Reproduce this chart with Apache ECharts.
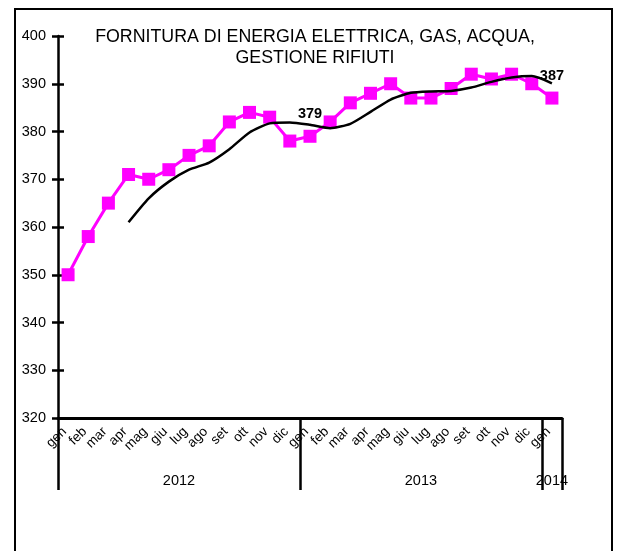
<!DOCTYPE html>
<html>
<head>
<meta charset="utf-8">
<script src="https://cdn.jsdelivr.net/npm/echarts@6/dist/echarts.min.js"></script>
<style>
html,body{margin:0;padding:0;background:#fff;}
#chart{width:617px;height:551px;}
</style>
</head>
<body>
<div id="chart"></div>
<script>
// ---- data ----
var months = ['gen','feb','mar','apr','mag','giu','lug','ago','set','ott','nov','dic',
              'gen','feb','mar','apr','mag','giu','lug','ago','set','ott','nov','dic','gen'];
var years = ['2012','2013','2014'];
var yearStart = [0, 12, 24];
var yearEnd = [11, 23, 24];
var indexValues = [350,358,365,371,370,372,375,377,382,384,383,378,
                   379,382,386,388,390,387,387,389,392,391,392,390,387];
var movingAvg = [null,null,null,361,366,369.5,372,373.5,376.3,379.8,381.7,381.9,
                 381.4,380.7,381.6,384.1,386.7,388.1,388.4,388.5,389.2,390.4,391.3,391.6,390.1];
var labelledIdx = [12, 24];
var yTicks = {min:320, max:400, interval:10};
var titleText = 'FORNITURA DI ENERGIA ELETTRICA, GAS, ACQUA,\nGESTIONE RIFIUTI';

var chart = echarts.init(document.getElementById('chart'), null, {renderer:'canvas'});
var FONT = 'Liberation Sans, Arial, sans-serif';

var option = {
  animation:false,
  backgroundColor:'#fff',
  title:{
    text:titleText,
    left:310, top:22, textAlign:'center',
    textStyle:{fontFamily:FONT, fontSize:17.8, fontWeight:'normal', color:'#000', lineHeight:21}
  },
  grid:{left:58, top:36, right:55, bottom:133, containLabel:false},
  xAxis:[{
    type:'category',
    data:months,
    boundaryGap:true,
    axisLine:{show:true, lineStyle:{color:'#000', width:3}},
    axisTick:{show:true, length:72, lineStyle:{color:'#000', width:2.5},
      interval:function(i){ return yearStart.indexOf(i) >= 0; }},
    axisLabel:{interval:0, rotate:45, margin:8, color:'#000', fontFamily:FONT, fontSize:13.5,
      padding:[0,5,0,0]},
    splitLine:{show:false}
  }],
  yAxis:[{
    type:'value', min:yTicks.min, max:yTicks.max, interval:yTicks.interval,
    axisLine:{show:true, lineStyle:{color:'#000', width:2.5}},
    axisTick:{show:true, length:6, lineStyle:{color:'#000', width:2.5}},
    axisLabel:{color:'#000', fontFamily:FONT, fontSize:14.5, margin:12},
    splitLine:{show:false}
  },{
    type:'value', min:yTicks.min, max:yTicks.max, interval:yTicks.interval, position:'left',
    axisLine:{show:false},
    axisTick:{show:true, inside:true, length:6, lineStyle:{color:'#000', width:2.5}},
    axisLabel:{show:false},
    splitLine:{show:false}
  }],
  series:[{
    type:'line',
    data:indexValues.map(function(v,i){
      if (labelledIdx.indexOf(i) >= 0) {
        return {value:v, label:{show:true, position:'top', distance:8, formatter:'{c}',
          color:'#000', fontFamily:FONT, fontSize:14.5, fontWeight:'bold'}};
      }
      return v;
    }),
    symbol:'rect', symbolSize:13,
    itemStyle:{color:'#ff00ff'},
    lineStyle:{color:'#ff00ff', width:3},
    z:3
  },{
    type:'line',
    data:movingAvg,
    symbol:'none',
    smooth:0.2,
    lineStyle:{color:'#000', width:2.5},
    z:4
  }]
};
chart.setOption(option);

// year labels centred under each year group
var g = [];
for (var k = 0; k < years.length; k++) {
  var x0 = chart.convertToPixel({xAxisIndex:0}, yearStart[k]);
  var x1 = chart.convertToPixel({xAxisIndex:0}, yearEnd[k]);
  g.push({type:'text', x:(x0+x1)/2, y:481,
    style:{text:years[k], fill:'#000', font:'14.5px ' + FONT, align:'center', verticalAlign:'middle'}});
}
g.push({type:'rect', shape:{x:15, y:9, width:597, height:560},
  style:{fill:null, stroke:'#000', lineWidth:2}, silent:true, z:-1});
chart.setOption({graphic:g});
</script>
</body>
</html>
